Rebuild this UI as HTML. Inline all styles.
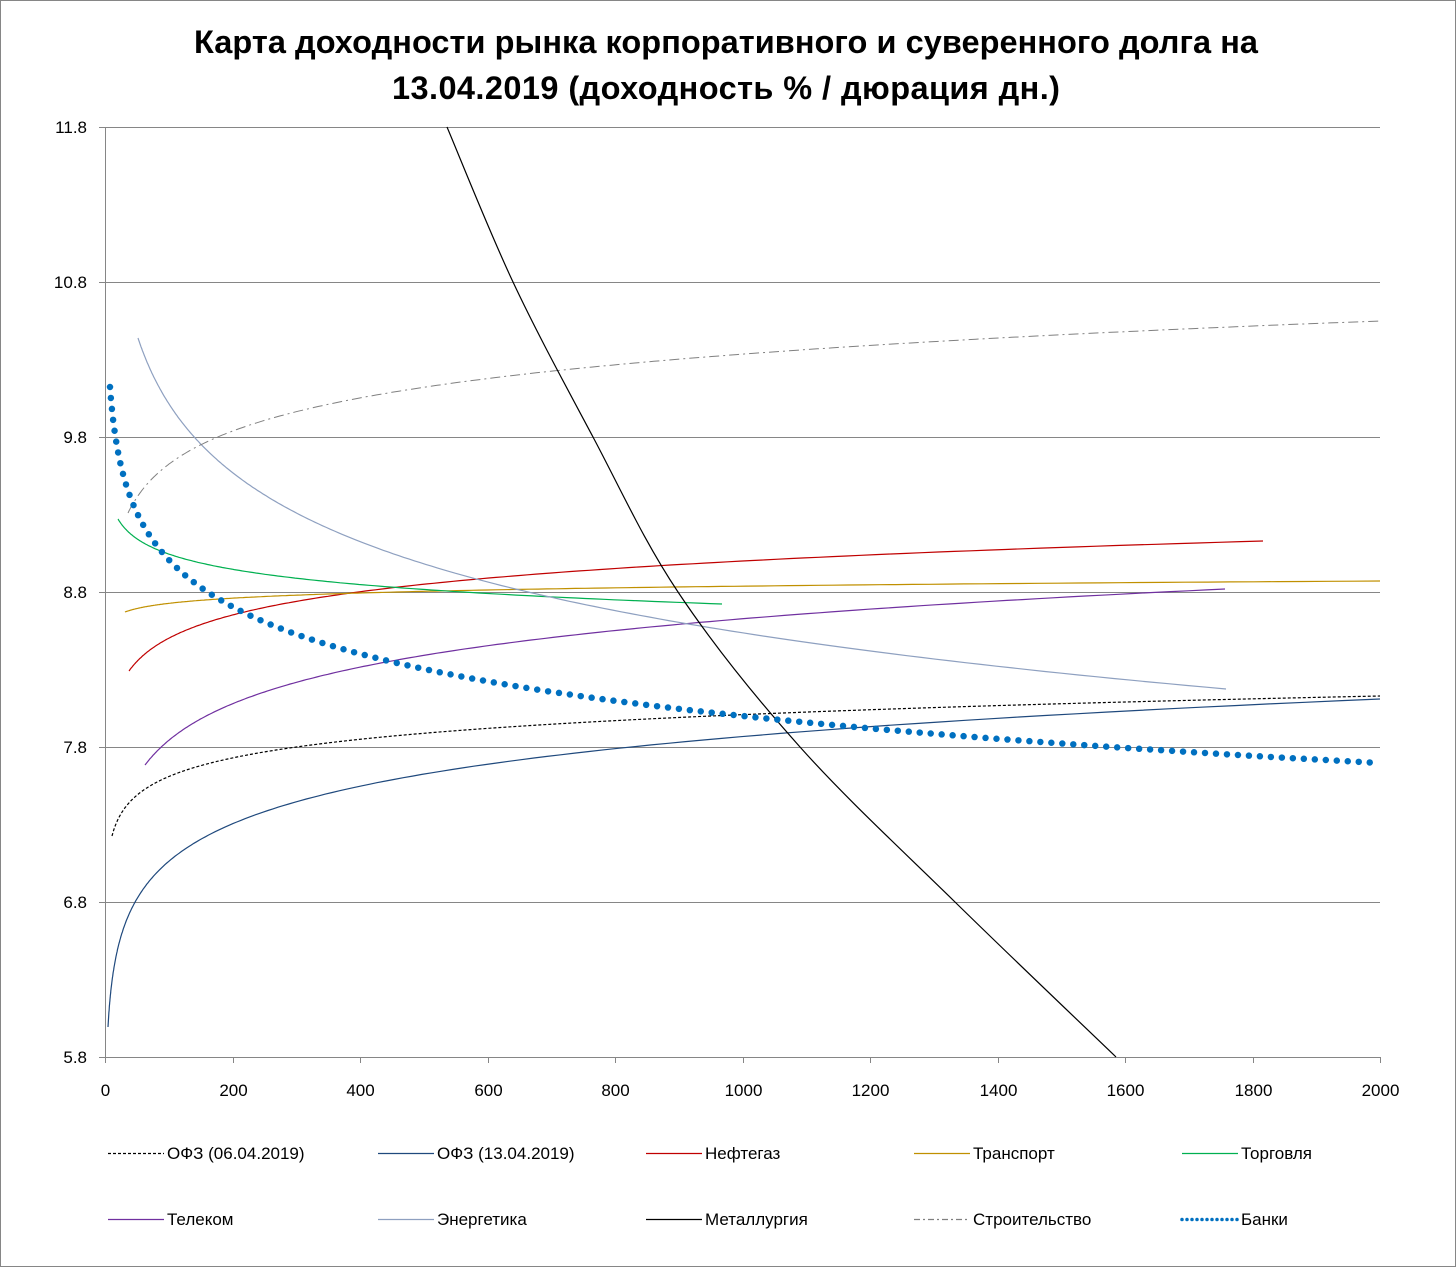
<!DOCTYPE html>
<html><head><meta charset="utf-8"><style>
html,body{margin:0;padding:0;background:#fff}
svg{display:block}
text{font-family:"Liberation Sans","DejaVu Sans",sans-serif}
</style></head><body>
<svg id="s" width="1456" height="1267" xmlns="http://www.w3.org/2000/svg">
<rect x="0.5" y="0.5" width="1455" height="1266" fill="#fff" stroke="#868686"/>
<text x="726" y="53" text-anchor="middle" font-size="32.5" font-weight="bold" textLength="1064">Карта доходности рынка корпоративного и суверенного долга на</text>
<text x="726" y="99" text-anchor="middle" font-size="32.5" font-weight="bold" textLength="668">13.04.2019 (доходность % / дюрация дн.)</text>
<g id="grid" stroke="#868686" stroke-width="1"></g>
<g id="lab" font-size="17" fill="#000"></g>
<g id="series" fill="none"></g>
<g id="leg" font-size="17"></g>
</svg>
<script>
const NS="http://www.w3.org/2000/svg";
function el(p,t,a,txt){const e=document.createElementNS(NS,t);for(const k in a)e.setAttribute(k,a[k]);if(txt!==undefined)e.textContent=txt;document.getElementById(p).appendChild(e);return e;}
const X0=105,X1=1380,Yt=127,Yb=1057;
const X=d=>X0+d*(X1-X0)/2000;
const yv=["11.8","10.8","9.8","8.8","7.8","6.8","5.8"];
for(let i=0;i<7;i++){const y=Yt+i*155;
 el("grid","line",{x1:X0-6,y1:y+.5,x2:X1,y2:y+.5});
 el("lab","text",{x:X0-18,y:y+6,"text-anchor":"end"},yv[i]);}
el("grid","line",{x1:X0+.5,y1:Yt,x2:X0+.5,y2:Yb+6});
for(let d=0;d<=2000;d+=200){const x=Math.round(X(d))+.5;
 el("grid","line",{x1:x,y1:Yb,x2:x,y2:Yb+6});
 el("lab","text",{x:x,y:Yb+39,"text-anchor":"middle"},String(d));}
function logc(x0,y0,x1,y1){
 const d0=(x0-X0)*2000/(X1-X0),d1=(x1-X0)*2000/(X1-X0);
 const k=(y1-y0)/Math.log(d1/d0);let p="";
 for(let i=0;i<=200;i++){const d=d0*Math.pow(d1/d0,i/200);const y=y0+k*Math.log(d/d0);p+=(i?"L":"M")+X(d).toFixed(1)+","+y.toFixed(1);}
 return p;}
function cr(pts){let p="M"+pts[0].join(",");
 for(let i=0;i<pts.length-1;i++){const a=pts[Math.max(0,i-1)],b=pts[i],c=pts[i+1],d=pts[Math.min(pts.length-1,i+2)];
  p+=`C${(b[0]+(c[0]-a[0])/6).toFixed(1)},${(b[1]+(c[1]-a[1])/6).toFixed(1)} ${(c[0]-(d[0]-b[0])/6).toFixed(1)},${(c[1]-(d[1]-b[1])/6).toFixed(1)} ${c[0]},${c[1]}`;}
 return p;}
const S=[
 [logc(112,836,1380,696),"#000",1.2,"3 2"],
 [logc(108,1027,1380,699),"#1F497D",1.2,""],
 [logc(129,671,1263,541),"#C00000",1.2,""],
 [logc(125,612,1380,581),"#C09000",1.2,""],
 [logc(118,519,722,604),"#00B050",1.2,""],
 [logc(145,765,1225,589),"#7030A0",1.2,""],
 [logc(138,338,1226,689),"#8EA0C0",1.2,""],
 [logc(128,513,1380,321),"#808080",1,"10 4 2 4"],
];
S.forEach(s=>el("series","path",{d:s[0],stroke:s[1],"stroke-width":s[2],"stroke-dasharray":s[3]}));
el("series","path",{d:cr([[447,127],[513,282],[593,437],[678,592],[800,747],[955,902],[1116,1057]]),stroke:"#000","stroke-width":1.2});
el("series","path",{d:logc(110,387,1380,763),stroke:"#0070C0","stroke-width":6.5,"stroke-linecap":"round","stroke-dasharray":"0 11"});
const L=[["ОФЗ (06.04.2019)","#000","3 2",1.2],["ОФЗ (13.04.2019)","#1F497D","",1.2],["Нефтегаз","#C00000","",1.2],["Транспорт","#C09000","",1.2],["Торговля","#00B050","",1.2],
["Телеком","#7030A0","",1.2],["Энергетика","#8EA0C0","",1.2],["Металлургия","#000","",1.2],["Строительство","#808080","6 3 2 3",1.2],["Банки","#0070C0","0 5",3.5]];
const lx=[108,378,646,914,1182];
L.forEach((l,i)=>{const x=lx[i%5],y=i<5?1153:1219;
 el("leg","line",{x1:x,y1:y+.5,x2:x+56,y2:y+.5,stroke:l[1],"stroke-width":l[3],"stroke-dasharray":l[2],"stroke-linecap":l[3]>2?"round":"butt"});
 el("leg","text",{x:x+59,y:y+6},l[0]);});
</script>
</body></html>
